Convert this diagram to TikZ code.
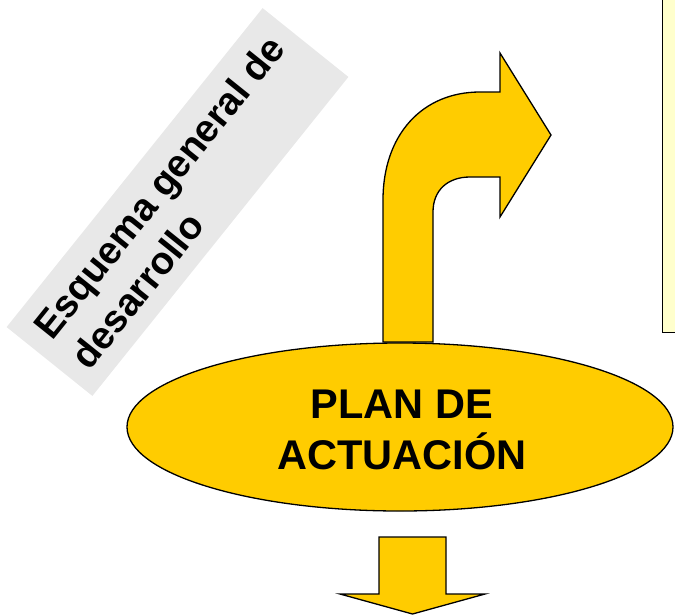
\documentclass[tikz,border=0pt]{standalone}
\usepackage{fontspec}
\setmainfont{Liberation Sans}
\usetikzlibrary{shapes.geometric}
\definecolor{gold}{HTML}{FFCC00}
\definecolor{lgray}{HTML}{E8E8E8}
\definecolor{pale}{HTML}{FFFFCC}
\begin{document}
\begin{tikzpicture}[x=1pt,y=-1pt,
  outl/.style={draw=black,line width=1.3pt,line join=miter},
  blockarrow/.style={outl,fill=gold},
  bigtext/.style={font=\fontsize{41.5}{51}\selectfont\bfseries,align=center,inner sep=0pt},
  bandtext/.style={font=\fontsize{38.5}{48}\selectfont\bfseries,align=left,inner sep=0pt}]
\useasboundingbox (0,0) rectangle (675,614);
% grey rotated label band
\node[rotate=51.25, fill=lgray, minimum width=409pt, minimum height=110pt, inner sep=0pt] (band) at (177.5,202) {};
\node[rotate=51.25, bandtext] (bandlabel) at (band.center) {Esquema general de\\desarrollo};
% pale note box at right
\node[outl, fill=pale, anchor=south west, minimum width=40pt, minimum height=345pt, inner sep=0pt] (notebox) at (662,333) {};
% bent arrow
\draw[blockarrow] (383,342) -- (383,200) .. controls (383,135) and (422,92) .. (480,92)
  -- (500,92) -- (500,53) -- (551,135) -- (500,217) -- (500,177) -- (470,177)
  .. controls (448,177) and (433,190) .. (433,212) -- (433,342) -- cycle;
% ellipse
\node[ellipse, outl, fill=gold, minimum width=546pt, minimum height=168pt, inner sep=0pt] (plan) at (400,427) {};
\node[bigtext] (plantext) at (402,430) {PLAN DE\\ACTUACIÓN};
% down arrow
\draw[blockarrow] (379,537) -- (446,537) -- (446,594) -- (485,594) -- (412.5,614) -- (340,594) -- (379,594) -- cycle;
\end{tikzpicture}
\end{document}
